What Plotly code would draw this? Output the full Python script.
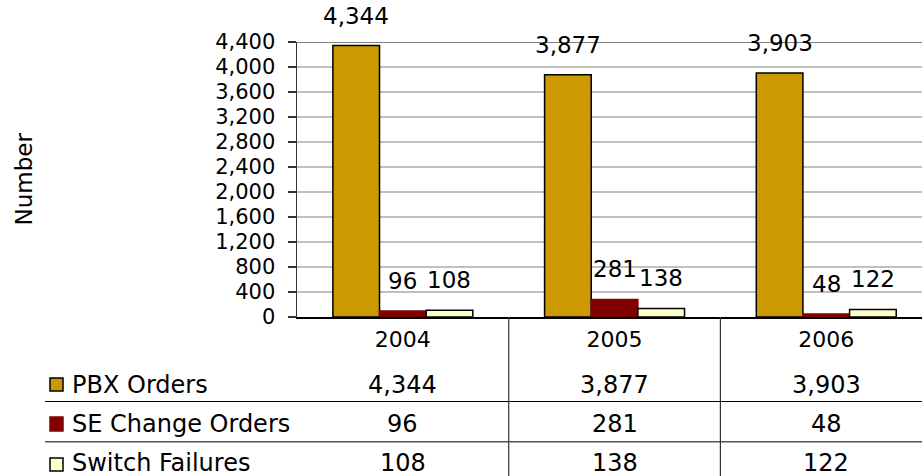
import plotly.graph_objects as go

years = ["2004", "2005", "2006"]
series_names = ["PBX Orders", "SE Change Orders", "Switch Failures"]
pbx_orders = [4344, 3877, 3903]
se_change_orders = [96, 281, 48]
switch_failures = [108, 138, 122]
y_ticks = list(range(0, 4401, 400))

values = [pbx_orders, se_change_orders, switch_failures]
colors = ["#CC9900", "#800000", "#FFFFCC"]
edge = ["#000000", "#800000", "#000000"]

FONT = "DejaVu Sans"
W, H = 922, 476
L, T, B = 297, 42, 159
plot_w = W - L
plot_h = H - T - B

bargap = 0.339
bw = (1 - bargap) / 3

fig = go.Figure()
for j, (name, vals) in enumerate(zip(series_names, values)):
    fig.add_trace(go.Bar(
        x=years, y=vals, name=name,
        marker=dict(color=colors[j], line=dict(color=edge[j], width=1.5)),
        showlegend=False, hoverinfo="skip",
    ))

def px_x(p):
    return (p - L) / plot_w

def px_y(p):
    return (H - B - p) / plot_h

annotations = []
# value labels above bars
for j, vals in enumerate(values):
    for i, v in enumerate(vals):
        annotations.append(dict(
            x=i + (j - 1) * bw, y=v, xref="x", yref="y",
            text=f"{v:,}", showarrow=False, yanchor="middle", yshift=30,
            font=dict(family=FONT, size=23, color="#000000"),
        ))

# y axis title
annotations.append(dict(
    x=px_x(23), y=0.5, xref="paper", yref="paper", text="Number",
    textangle=-90, showarrow=False, xanchor="center", yanchor="middle",
    font=dict(family=FONT, size=23, color="#000000"),
))

# data table
row_y = [385, 424, 463]
shapes = []
marker_box = [(378, 391), (417, 431), (458, 471)]
for j, (name, vals) in enumerate(zip(series_names, values)):
    annotations.append(dict(
        x=px_x(70), y=px_y(row_y[j]), xref="paper", yref="paper",
        text=name, showarrow=False, xanchor="left", yanchor="middle",
        font=dict(family=FONT, size=24, color="#000000"),
    ))
    for i, v in enumerate(vals):
        annotations.append(dict(
            x=i, y=px_y(row_y[j]), xref="x", yref="paper",
            text=f"{v:,}", showarrow=False, xanchor="center", yanchor="middle",
            font=dict(family=FONT, size=24, color="#000000"),
        ))
    y0, y1 = marker_box[j]
    shapes.append(dict(
        type="rect", xref="paper", yref="paper",
        x0=px_x(50), x1=px_x(63), y0=px_y(y1), y1=px_y(y0),
        fillcolor=colors[j], line=dict(color=edge[j], width=1.5),
    ))

# table horizontal rules
for yy, col, wd in [(401.5, "#000000", 1.2), (441.7, "#555555", 1.6)]:
    shapes.append(dict(
        type="line", xref="paper", yref="paper",
        x0=px_x(45), x1=1, y0=px_y(yy), y1=px_y(yy),
        line=dict(color=col, width=wd),
    ))
# table vertical rules at category boundaries
for i in range(len(years) - 1):
    shapes.append(dict(
        type="line", xref="x", yref="paper",
        x0=i + 0.5, x1=i + 0.5, y0=0, y1=px_y(H + 5),
        line=dict(color="#333333", width=1.2),
    ))
# darker top gridline
shapes.append(dict(
    type="line", xref="paper", yref="y", x0=0, x1=1,
    y0=y_ticks[-1], y1=y_ticks[-1], line=dict(color="#808080", width=2),
))

fig.update_layout(
    width=W, height=H,
    margin=dict(l=L, r=0, t=T, b=B, pad=0),
    paper_bgcolor="#FFFFFF", plot_bgcolor="#FFFFFF",
    barmode="group", bargap=bargap, bargroupgap=0,
    font=dict(family=FONT, size=22, color="#000000"),
    annotations=annotations, shapes=shapes,
    xaxis=dict(
        type="category", range=[-0.5, -0.5 + plot_w / 211.7],
        showline=True, linecolor="#000000", linewidth=1.5,
        ticks="", showgrid=False, zeroline=False,
        tickfont=dict(family=FONT, size=22, color="#000000"),
        ticklabelstandoff=2, fixedrange=True,
    ),
    yaxis=dict(
        range=[0, y_ticks[-1]], tickvals=y_ticks,
        ticktext=[f"{t:,}" for t in y_ticks],
        showline=True, linecolor="#333333", linewidth=1.5,
        ticks="outside", ticklen=8, tickcolor="#333333", tickwidth=1.5,
        showgrid=True, gridcolor="#C0C0C0", gridwidth=1.5, zeroline=False,
        tickfont=dict(family=FONT, size=21, color="#000000"),
        ticklabelstandoff=8, fixedrange=True,
    ),
)

fig.write_html(
    "out.html",
    config={"displayModeBar": False, "staticPlot": True},
    post_script="document.body.style.margin='0px';document.body.style.overflow='hidden';",
)
